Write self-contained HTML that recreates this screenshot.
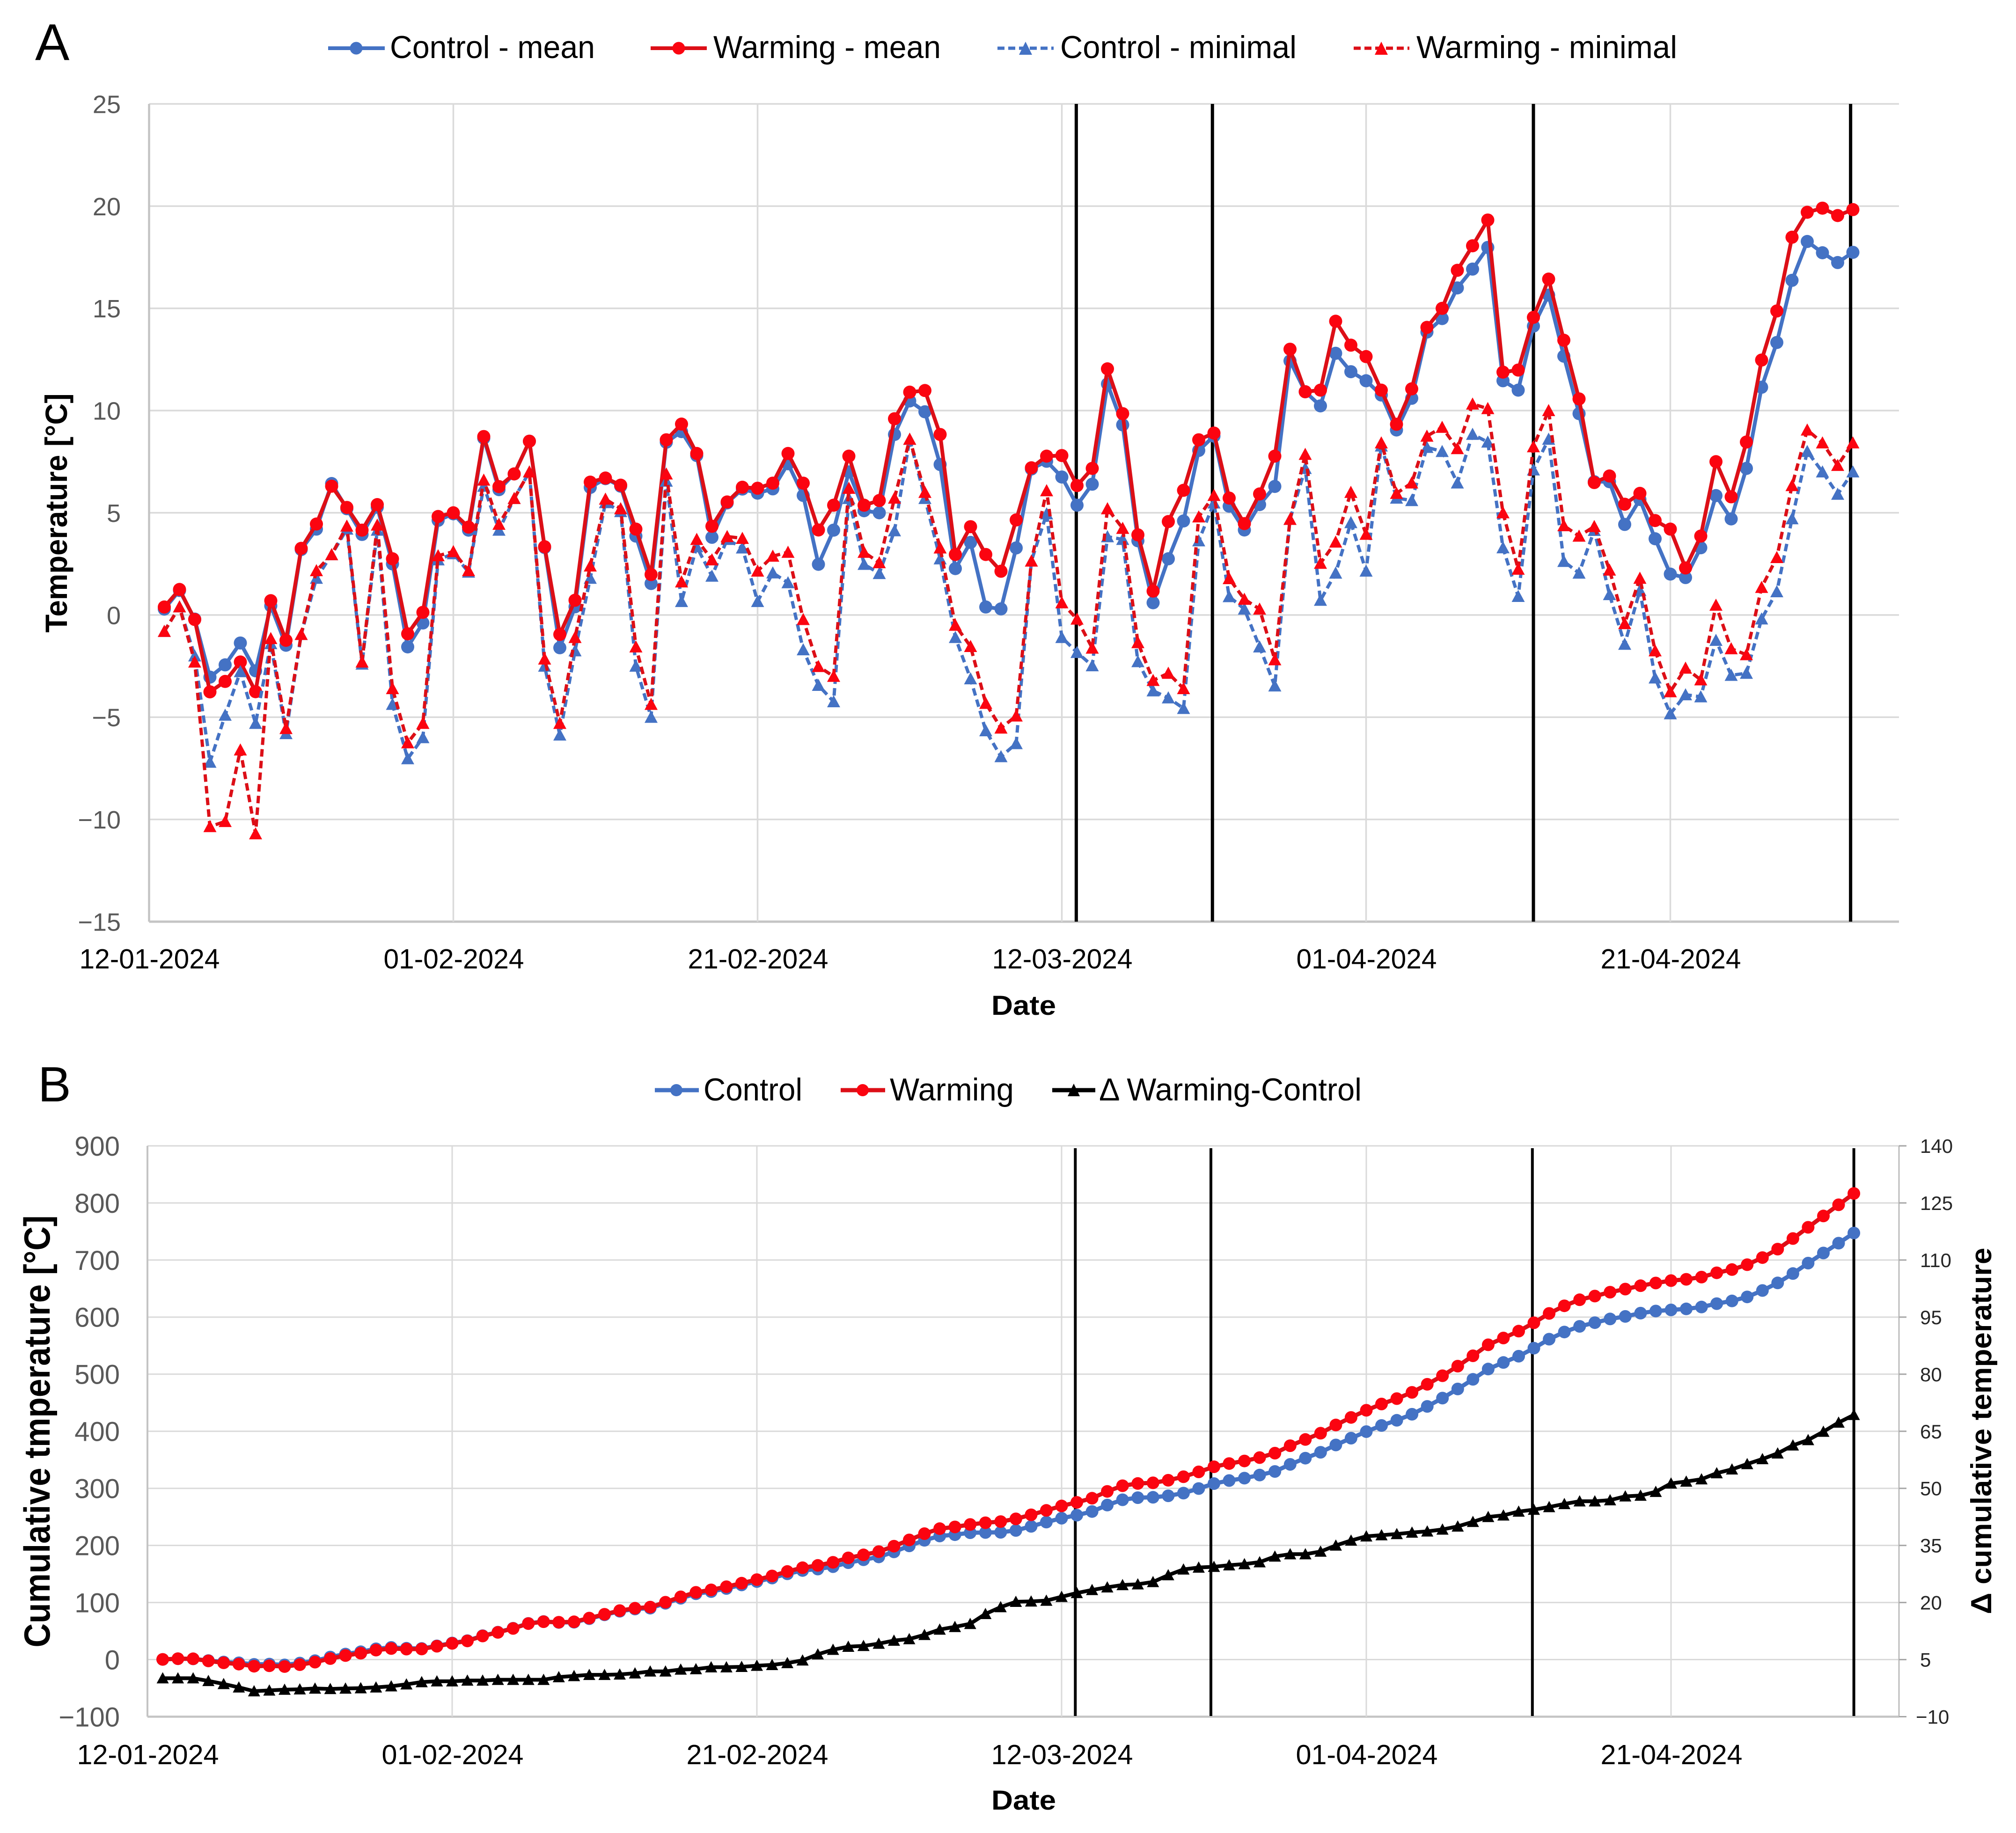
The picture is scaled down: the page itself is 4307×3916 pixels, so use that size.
<!DOCTYPE html>
<html lang="en">
<head>
<meta charset="utf-8">
<title>Temperature and cumulative temperature charts</title>
<style>
html,body{margin:0;padding:0;background:#fff}
svg{display:block}
text{font-family:"Liberation Sans",sans-serif}
</style>
</head>
<body>
<svg id="figure" xmlns="http://www.w3.org/2000/svg" width="4307" height="3916" viewBox="0 0 4307 3916">
  <rect x="0" y="0" width="4307" height="3916" fill="#ffffff"/>

  <g id="panelA"></g>
  <g id="panelB"></g>

  <text x="75" y="128" font-size="110" fill="#000">A</text>
  <text x="81" y="2353" font-size="106" fill="#000">B</text>

  <g>
    <g>
      <line x1="701" x2="822" y1="103" y2="103" stroke="#4472c4" stroke-width="8"/>
      <circle cx="761" cy="103" r="13.5" fill="#4472c4"/>
      <text x="833" y="124" font-size="68" textLength="438" lengthAdjust="spacingAndGlyphs" fill="#000">Control - mean</text>
    </g>
    <g>
      <line x1="1390" x2="1510" y1="103" y2="103" stroke="#dc0f17" stroke-width="8"/>
      <circle cx="1450" cy="103" r="13.5" fill="#fb0410"/>
      <text x="1524" y="124" font-size="68" textLength="486" lengthAdjust="spacingAndGlyphs" fill="#000">Warming - mean</text>
    </g>
    <g>
      <line x1="2131" x2="2251" y1="103" y2="103" stroke="#4472c4" stroke-width="7" stroke-dasharray="15 8"/>
      <polygon points="2191,89 2205,117 2177,117" fill="#4472c4"/>
      <text x="2265" y="124" font-size="68" textLength="505" lengthAdjust="spacingAndGlyphs" fill="#000">Control - minimal</text>
    </g>
    <g>
      <line x1="2892" x2="3011" y1="103" y2="103" stroke="#dc0f17" stroke-width="7" stroke-dasharray="15 8"/>
      <polygon points="2951,89 2965,117 2937,117" fill="#fb0410"/>
      <text x="3026" y="124" font-size="68" textLength="557" lengthAdjust="spacingAndGlyphs" fill="#000">Warming - minimal</text>
    </g>
  </g>

  <g>
    <g>
      <line x1="1399" x2="1493" y1="2329" y2="2329" stroke="#4472c4" stroke-width="9"/>
      <circle cx="1445" cy="2329" r="13" fill="#4472c4"/>
      <text x="1503" y="2351" font-size="68" textLength="211" lengthAdjust="spacingAndGlyphs" fill="#000">Control</text>
    </g>
    <g>
      <line x1="1796" x2="1891" y1="2329" y2="2329" stroke="#dc0f17" stroke-width="9"/>
      <circle cx="1843" cy="2329" r="13" fill="#fb0410"/>
      <text x="1901" y="2351" font-size="68" textLength="265" lengthAdjust="spacingAndGlyphs" fill="#000">Warming</text>
    </g>
    <g>
      <line x1="2248" x2="2340" y1="2329" y2="2329" stroke="#000" stroke-width="9"/>
      <polygon points="2294,2315 2307,2342 2281,2342" fill="#000"/>
      <text x="2348" y="2351" font-size="68" textLength="561" lengthAdjust="spacingAndGlyphs" fill="#000">Δ Warming-Control</text>
    </g>
  </g>

  <text x="2187" y="2168" font-size="58" font-weight="bold" text-anchor="middle" textLength="138" lengthAdjust="spacingAndGlyphs" fill="#000">Date</text>
  <text x="2187" y="3866" font-size="58" font-weight="bold" text-anchor="middle" textLength="138" lengthAdjust="spacingAndGlyphs" fill="#000">Date</text>
  <text transform="translate(143,1096) rotate(-90)" font-size="66" font-weight="bold" text-anchor="middle" textLength="511" lengthAdjust="spacingAndGlyphs" fill="#000">Temperature [°C]</text>
  <text transform="translate(106,3058) rotate(-90)" font-size="78" font-weight="bold" text-anchor="middle" textLength="923" lengthAdjust="spacingAndGlyphs" fill="#000">Cumulative tmperature [°C]</text>
  <text transform="translate(4254,3057) rotate(-90)" font-size="62" font-weight="bold" text-anchor="middle" textLength="783" lengthAdjust="spacingAndGlyphs" fill="#000">Δ cumulative temperature</text>
</svg>

<script>
// ---- Shared category axis ----
const dateTickDays = [0, 20, 40, 60, 80, 100];
const dateTickLabels = ['12-01-2024', '01-02-2024', '21-02-2024', '12-03-2024', '01-04-2024', '21-04-2024'];

// ---- Panel A data (°C), one value per day ----
const tempTicks = [25, 20, 15, 10, 5, 0, -5, -10, -15];
const tempTickLabels = ['25', '20', '15', '10', '5', '0', '−5', '−10', '−15'];
const controlMean = [0.29,1.2,-0.2,-3.04,-2.44,-1.37,-2.73,0.45,-1.48,3.2,4.2,6.43,5.2,3.94,5.27,2.5,-1.56,-0.39,4.63,4.95,4.15,8.65,6.13,6.9,8.5,3.3,-1.6,0.4,6.24,6.67,6.3,3.86,1.54,8.45,8.97,7.8,3.8,5.48,6.16,5.96,6.17,7.4,5.85,2.48,4.15,7.0,5.1,5.0,8.83,10.47,9.94,7.36,2.27,3.55,0.39,0.3,3.28,7.14,7.52,6.75,5.37,6.4,11.3,9.3,3.63,0.6,2.75,4.6,8.05,8.75,5.32,4.16,5.4,6.29,12.43,10.92,10.23,12.8,11.9,11.46,10.76,9.05,10.6,13.84,14.5,16.0,16.92,17.98,11.46,11.0,14.13,15.65,12.66,9.85,6.52,6.52,4.43,5.65,3.73,2.0,1.83,3.29,5.84,4.7,7.17,11.14,13.33,16.37,18.27,17.72,17.24,17.74];
const warmingMean = [0.39,1.25,-0.22,-3.76,-3.25,-2.3,-3.75,0.7,-1.24,3.26,4.45,6.3,5.26,4.15,5.4,2.75,-0.92,0.13,4.82,5.0,4.3,8.73,6.28,6.9,8.5,3.34,-0.95,0.72,6.5,6.7,6.35,4.2,1.98,8.57,9.34,7.9,4.34,5.53,6.25,6.2,6.45,7.9,6.45,4.16,5.37,7.77,5.37,5.6,9.6,10.9,10.98,8.83,2.96,4.32,2.96,2.14,4.65,7.2,7.77,7.8,6.33,7.17,12.04,9.85,3.92,1.17,4.57,6.1,8.57,8.9,5.72,4.47,5.92,7.77,13.0,10.92,11.0,14.37,13.2,12.64,11.0,9.33,11.06,14.07,15.0,16.86,18.06,19.32,11.88,11.98,14.56,16.43,13.44,10.57,6.48,6.8,5.42,5.95,4.62,4.2,2.3,3.86,7.5,5.78,8.46,12.47,14.87,18.48,19.7,19.9,19.54,19.83];
const controlMinimal = [-0.8,0.4,-2.0,-7.2,-4.9,-2.77,-5.3,-1.4,-5.8,-0.95,1.8,2.95,4.2,-2.4,4.15,-4.37,-7.03,-6.0,2.7,3.0,2.1,6.3,4.15,5.7,7.0,-2.5,-5.87,-1.75,1.8,5.5,5.06,-2.5,-5.0,6.55,0.66,3.34,1.9,3.7,3.28,0.66,2.06,1.58,-1.7,-3.44,-4.24,5.7,2.48,2.03,4.12,8.6,5.7,2.75,-1.1,-3.12,-5.66,-6.93,-6.29,2.64,4.95,-1.1,-1.83,-2.48,3.83,3.7,-2.28,-3.71,-4.05,-4.57,3.63,5.48,0.9,0.29,-1.56,-3.47,4.68,7.17,0.72,2.05,4.52,2.15,8.27,5.72,5.6,8.2,8.0,6.46,8.84,8.46,3.29,0.91,7.1,8.6,2.62,2.05,4.14,1.0,-1.43,1.2,-3.08,-4.83,-3.9,-4.0,-1.24,-2.95,-2.85,-0.19,1.14,4.71,8.0,7.0,5.91,7.0];
const warmingMinimal = [-0.8,0.4,-2.3,-10.35,-10.1,-6.6,-10.7,-1.15,-5.55,-0.95,2.17,2.95,4.35,-2.3,4.4,-3.6,-6.25,-5.3,2.9,3.1,2.17,6.6,4.44,5.7,7.0,-2.15,-5.3,-1.1,2.4,5.67,5.2,-1.56,-4.37,6.9,1.62,3.7,2.7,3.84,3.75,2.15,2.88,3.07,-0.22,-2.52,-3.0,6.2,3.07,2.56,5.72,8.6,6.0,3.28,-0.5,-1.54,-4.32,-5.53,-4.94,2.64,6.08,0.6,-0.2,-1.62,5.2,4.24,-1.35,-3.2,-2.85,-3.6,4.8,5.85,1.78,0.77,0.29,-2.19,4.68,7.86,2.53,3.57,6.0,3.95,8.42,5.95,6.46,8.75,9.18,8.14,10.32,10.1,5.0,2.24,8.23,10.0,4.37,3.86,4.33,2.2,-0.42,1.8,-1.75,-3.75,-2.6,-3.17,0.48,-1.65,-1.94,1.35,2.81,6.33,9.05,8.42,7.32,8.42];
const eventDaysA = [60.95, 69.9, 91, 111.85];

// ---- Panel B data ----
const cumTicks = [900, 800, 700, 600, 500, 400, 300, 200, 100, 0, -100];
const cumTickLabels = ['900', '800', '700', '600', '500', '400', '300', '200', '100', '0', '−100'];
const deltaTicks = [140, 125, 110, 95, 80, 65, 50, 35, 20, 5, -10];
const deltaTickLabels = ['140', '125', '110', '95', '80', '65', '50', '35', '20', '5', '−10'];
const cumControl = [0.3,1.5,1.3,-1.7,-4.2,-5.6,-8.3,-7.8,-9.3,-6.1,-1.9,4.5,9.7,13.7,18.9,21.4,19.9,19.5,24.1,29.1,33.2,41.9,48,54.9,63.4,66.7,65.1,65.5,71.7,78.4,84.7,88.6,90.1,98.6,107.5,115.3,119.1,124.6,130.8,136.7,142.9,150.3,156.1,158.6,162.8,169.8,174.9,179.9,188.7,199.2,209.1,216.5,218.8,222.3,222.7,223,226.3,233.4,240.9,247.7,253,259.4,270.7,280,283.7,284.3,287,291.6,299.7,308.4,313.7,317.9,323.3,329.6,342,352.9,363.2,376,387.9,399.4,410.1,419.2,429.8,443.6,458.1,474.1,491,509,520.5,531.5,545.6,561.3,573.9,583.8,590.3,596.8,601.2,606.9,610.6,612.6,614.4,617.7,623.6,628.3,635.4,646.6,659.9,676.3,694.6,712.3,729.5,747.3];
const cumWarming = [0.4,1.6,1.4,-2.3,-5.6,-7.9,-11.6,-10.9,-12.2,-8.9,-4.5,1.8,7.1,11.2,16.6,19.4,18.4,18.6,23.4,28.4,32.7,41.4,47.7,54.6,63.1,66.4,65.5,66.2,72.7,79.4,85.8,90,92,100.5,109.9,117.8,122.1,127.6,133.9,140.1,146.5,154.4,160.9,165,170.4,178.2,183.5,189.1,198.7,209.6,220.6,229.4,232.4,236.7,239.7,241.8,246.5,253.7,261.4,269.2,275.5,282.7,294.7,304.6,308.5,309.7,314.2,320.3,328.9,337.8,343.5,348,353.9,361.7,374.7,385.6,396.6,411,424.2,436.8,447.8,457.2,468.2,482.3,497.3,514.1,532.2,551.5,563.4,575.4,590,606.4,619.8,630.4,636.9,643.7,649.1,655,659.7,663.9,666.2,670.1,677.6,683.3,691.8,704.3,719.1,737.6,757.3,777.2,796.8,816.6];
const cumDelta = [0.1,0.1,0.1,-0.6,-1.4,-2.3,-3.3,-3.1,-2.9,-2.8,-2.6,-2.7,-2.6,-2.5,-2.3,-2.0,-1.5,-0.9,-0.7,-0.7,-0.5,-0.5,-0.3,-0.3,-0.3,-0.3,0.4,0.7,1.0,1.0,1.1,1.4,1.9,1.9,2.4,2.5,3.0,3.0,3.1,3.4,3.6,4.1,4.8,6.4,7.6,8.4,8.6,9.2,10.0,10.4,11.5,12.9,13.6,14.4,17.0,18.8,20.2,20.3,20.5,21.5,22.5,23.3,24,24.6,24.8,25.4,27.2,28.7,29.2,29.4,29.8,30.1,30.6,32.1,32.7,32.7,33.4,35,36.3,37.4,37.7,38,38.4,38.7,39.2,40,41.2,42.5,42.9,43.9,44.4,45.1,45.9,46.6,46.6,46.9,47.9,48.1,49.1,51.3,51.8,52.4,54,55,56.4,57.7,59.2,61.3,62.7,64.9,67.3,69.3];
const eventDaysB = [60.9, 69.8, 90.9, 112];

// ---- Axis functions ----
const xA = d => 318.5 + 32.5 * d;
const xB = d => 315 + 32.55 * d;
const yA = v => 222 + (25 - v) * (1969 - 222) / 40;
const yB = v => 2448 + (900 - v) * (3667.5 - 2448) / 1000;
const yBR = v => 2448 + (140 - v) * (3667.5 - 2448) / 150;

const NS = 'http://www.w3.org/2000/svg';
function mk(parent, tag, attrs, txt) {
  const el = document.createElementNS(NS, tag);
  for (const k in attrs) el.setAttribute(k, attrs[k]);
  if (txt !== undefined) el.textContent = txt;
  parent.appendChild(el);
  return el;
}

function drawSeries(parent, name, values, xf, yf, o) {
  const g = mk(parent, 'g', {});
  
  
  const pts = values.map((v, i) => xf(i + 1).toFixed(1) + ',' + yf(v).toFixed(1)).join(' ');
  const attrs = { points: pts, fill: 'none', stroke: o.line, 'stroke-width': o.width, 'stroke-linejoin': 'round' };
  if (o.dash) attrs['stroke-dasharray'] = o.dash;
  const line = mk(g, 'polyline', attrs);
  
  
  values.forEach((v, i) => {
    const cx = xf(i + 1), cy = yf(v);
    let m;
    if (o.marker === 'circle') {
      m = mk(g, 'circle', { cx: cx.toFixed(1), cy: cy.toFixed(1), r: o.size, fill: o.fill });
    } else {
      const s = o.size;
      m = mk(g, 'polygon', { points: cx.toFixed(1) + ',' + (cy - s).toFixed(1) + ' ' + (cx + s).toFixed(1) + ',' + (cy + s * 0.85).toFixed(1) + ' ' + (cx - s).toFixed(1) + ',' + (cy + s * 0.85).toFixed(1), fill: o.fill });
    }
    
    
  });
}

function drawFrame(parent, xf, top, bottom, right, yTicks, yLabels, yf, yFont, yRight, gridW, labelBase, labelFont, labelWidth) {
  yTicks.forEach((t, i) => {
    const isBottom = i === yTicks.length - 1;
    const l = mk(parent, 'line', { x1: xf(0), x2: right, y1: yf(t), y2: yf(t), stroke: isBottom ? '#c4c4c4' : '#dadada', 'stroke-width': isBottom ? gridW + 1.5 : gridW });
    
    
    const lab = mk(parent, 'text', { x: yRight, y: yf(t) + yFont * 0.36, 'font-size': yFont, 'text-anchor': 'end', fill: '#595959' }, yLabels[i]);
    
    
  });
  dateTickDays.forEach((d, i) => {
    const l = mk(parent, 'line', { x1: xf(d), x2: xf(d), y1: top, y2: bottom, stroke: d === 0 ? '#c4c4c4' : '#dadada', 'stroke-width': d === 0 ? gridW + 1 : gridW });
    
    
    const lab = mk(parent, 'text', { x: xf(d) + 1, y: labelBase, 'font-size': labelFont, 'text-anchor': 'middle', textLength: labelWidth, lengthAdjust: 'spacingAndGlyphs', fill: '#000' }, dateTickLabels[i]);
    
    
  });
}

function drawEvents(parent, days, xf, top, bottom, w) {
  days.forEach(d => {
    const l = mk(parent, 'line', { x1: xf(d), x2: xf(d), y1: top, y2: bottom, stroke: '#000', 'stroke-width': w });
    
    
  });
}

// ---- Panel A ----
const pA = document.getElementById('panelA');
drawFrame(pA, xA, 222, 1969, 4057, tempTicks, tempTickLabels, yA, 54, 258, 3.5, 2069, 59, 300);
drawEvents(pA, eventDaysA, xA, 222, 1969, 7);
const BLUE = '#4472c4', RED = '#dc0f17', RED_M = '#fb0410';
drawSeries(pA, 'control-mean', controlMean, xA, yA, { line: BLUE, width: 8, marker: 'circle', size: 14, fill: BLUE });
drawSeries(pA, 'warming-mean', warmingMean, xA, yA, { line: RED, width: 8, marker: 'circle', size: 14, fill: RED_M });
drawSeries(pA, 'control-minimal', controlMinimal, xA, yA, { line: BLUE, width: 7, dash: '16 9', marker: 'tri', size: 14, fill: BLUE });
drawSeries(pA, 'warming-minimal', warmingMinimal, xA, yA, { line: RED, width: 7, dash: '16 9', marker: 'tri', size: 14, fill: RED_M });

// ---- Panel B ----
const pB = document.getElementById('panelB');
drawFrame(pB, xB, 2448, 3667.5, 4057, cumTicks, cumTickLabels, yB, 58, 256, 3, 3769, 59, 303);
const rAxis = mk(pB, 'line', { x1: 4057, x2: 4057, y1: 2448, y2: 3667.5, stroke: '#bdbdbd', 'stroke-width': 3 });


deltaTicks.forEach((t, i) => {
  const tick = mk(pB, 'line', { x1: 4057, x2: 4073, y1: yBR(t), y2: yBR(t), stroke: '#a6a6a6', 'stroke-width': 3 });
  
  
  const lab = mk(pB, 'text', { x: t < 0 ? 4093 : 4102, y: yBR(t) + 15, 'font-size': 42, fill: '#262626' }, deltaTickLabels[i]);
  
  
});
drawEvents(pB, eventDaysB, xB, 2453, 3666, 6);
drawSeries(pB, 'cumulative-control', cumControl, xB, yB, { line: BLUE, width: 9, marker: 'circle', size: 13.5, fill: BLUE });
drawSeries(pB, 'cumulative-warming', cumWarming, xB, yB, { line: RED, width: 9, marker: 'circle', size: 13.5, fill: RED_M });
drawSeries(pB, 'cumulative-delta', cumDelta, xB, yBR, { line: '#000', width: 8, marker: 'tri', size: 13, fill: '#000' });
</script>
</body>
</html>
